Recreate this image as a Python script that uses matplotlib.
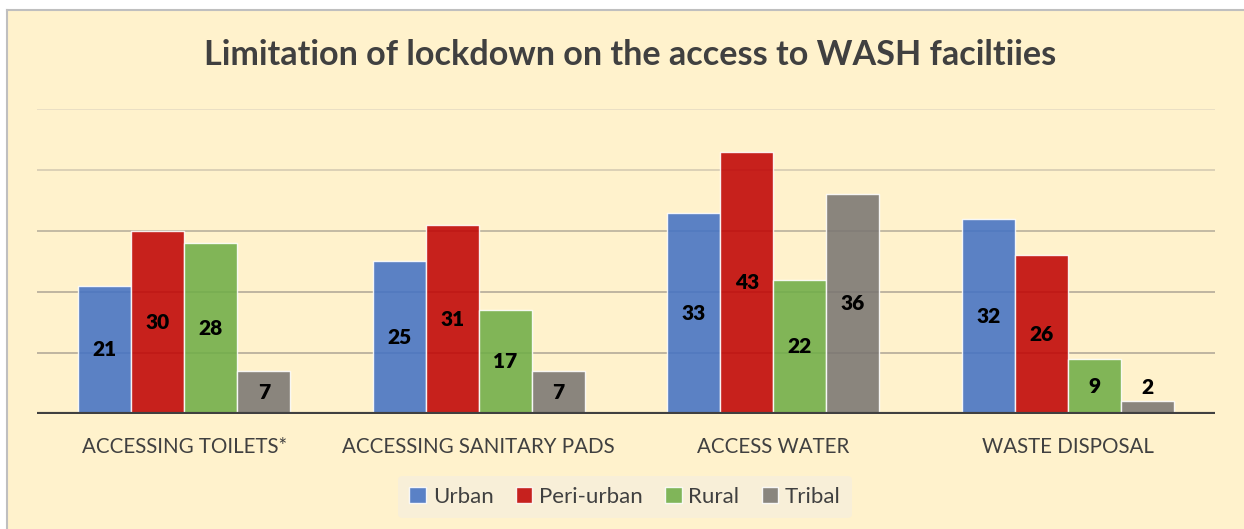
import matplotlib
matplotlib.use("Agg")
import matplotlib.pyplot as plt
import numpy as np
from matplotlib.patches import Rectangle

categories = ["ACCESSING TOILETS*", "ACCESSING SANITARY PADS", "ACCESS WATER", "WASTE DISPOSAL"]
series_names = ["Urban", "Peri-urban", "Rural", "Tribal"]
urban = [21, 25, 33, 32]
peri_urban = [30, 31, 43, 26]
rural = [28, 17, 22, 9]
tribal = [7, 7, 36, 2]
series_values = [urban, peri_urban, rural, tribal]
colors = ["#4472C4", "#C00404", "#70AD47", "#7A7672"]
title = "Limitation of lockdown on the access to WASH faciltiies"
grid_levels = [10, 20, 30, 40, 50]

W, H = 1244, 529
fig = plt.figure(figsize=(W / 100, H / 100), dpi=100)
fig.patch.set_facecolor("white")

bg = "#FFF2CC"
fig.patches.append(Rectangle((7 / W, 0), 1 - 7 / W, 1 - 10 / H, transform=fig.transFigure,
                             facecolor=bg, edgecolor="none", zorder=-5))
fig.lines.append(plt.Line2D([7 / W, 7 / W], [0, 1 - 10 / H], transform=fig.transFigure,
                            color="#BFBFBF", lw=1.5, zorder=-4))
fig.lines.append(plt.Line2D([7 / W, 1], [1 - 10 / H, 1 - 10 / H], transform=fig.transFigure,
                            color="#BFBFBF", lw=1.5, zorder=-4))

left, right = 37 / W, 1215 / W
bottom, top = 1 - 413.5 / H, 1 - 109 / H
ax = fig.add_axes([left, bottom, right - left, top - bottom])
ax.set_zorder(2)
ax.set_facecolor("none")
ax.set_ylim(0, 50)
ax.set_xlim(-0.5, len(categories) - 0.5)

grid_colors = ["#ADA594", "#ADA594", "#B3AB98", "#D2C8B0", "#E4DAC2"]
for y, gc in zip(grid_levels, grid_colors):
    ax.axhline(y, color=gc, lw=1.1, zorder=1)

x = np.arange(len(categories))
bw = 0.18
font = "Lato"
for i, (vals, c) in enumerate(zip(series_values, colors)):
    xs = x + (i - 1.5) * bw
    ax.bar(xs, vals, width=bw, color=c, alpha=0.88, edgecolor=(1, 1, 1, 0.5), linewidth=1.0,
           zorder=2, label=series_names[i])
    for xi, v in zip(xs, vals):
        yy = v / 2 if v >= 4 else v + 2.3
        ax.text(xi, yy, str(v), ha="center", va="center", fontsize=15, fontweight="heavy",
                family=font, color="black", zorder=4)

ax.axhline(0, color="#404040", lw=3, zorder=3)
for s in ax.spines.values():
    s.set_visible(False)
ax.set_yticks([])
ax.set_xticks(x)
ax.set_xticklabels(categories, family=font, fontsize=14.8, color="#404040")
ax.tick_params(axis="x", length=0, pad=17)

fig.text(630 / W, 1 - 55 / H, title, ha="center", va="center", fontsize=24.6,
         fontweight="bold", family=font, color="#404040")

handles, labels = ax.get_legend_handles_labels()
leg = fig.legend(handles, labels, loc="center", bbox_to_anchor=(625 / W, 1 - 497 / H), ncol=4,
                 frameon=True, prop={"family": font, "size": 16}, handlelength=0.75,
                 handleheight=0.75, handletextpad=0.3, columnspacing=1.0,
                 borderpad=0.5)
leg.get_frame().set_facecolor("#F8EFD8")
leg.get_frame().set_edgecolor("none")
leg.get_frame().set_alpha(1)
for t in leg.get_texts():
    t.set_color("#404040")

fig.savefig("out.png", dpi=100)
